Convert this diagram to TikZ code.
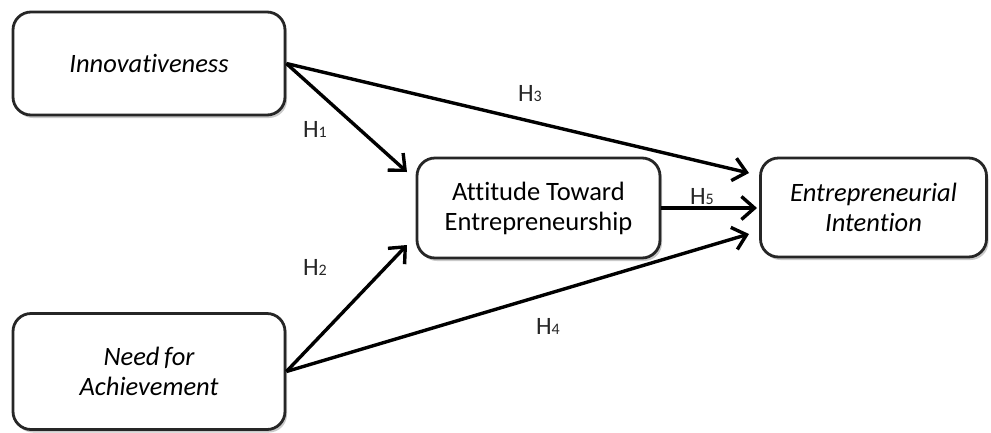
\documentclass[tikz,border=0pt]{standalone}
\usepackage{fontspec}
\setmainfont{Carlito}[Ligatures=NoCommon]
\usetikzlibrary{arrows.meta,shadows}
\begin{document}
\begin{tikzpicture}[x=1pt,y=-1pt,
  box/.style={draw=black!85, line width=2.8pt, rounded corners=18pt, fill=white,
    align=center, inner sep=0pt, font=\fontsize{26.5}{30}\selectfont,
    drop shadow={shadow xshift=2pt, shadow yshift=-3pt, opacity=0.35, fill=black!60}},
  conn/.style={line width=3.4pt, black, -{Straight Barb[length=13pt,width=23pt,line width=3.4pt]}},
  lab/.style={font=\fontsize{25}{28}\selectfont, inner sep=0pt, text=black!85}]
\useasboundingbox (0,0) rectangle (991,432);
\node[box, minimum width=272pt, minimum height=103pt] (inn) at (149,63.5) {\itshape Innovativeness};
\node[box, minimum width=272pt, minimum height=116pt] (nfa) at (149,371.5) {\itshape Need\,for\\\itshape Achievement};
\node[box, minimum width=243pt, minimum height=100pt] (att) at (538.5,208) {Attitude Toward\\Entrepreneurship};
\node[box, minimum width=226pt, minimum height=99pt] (ei) at (873.5,207.5) {\itshape Entrepreneurial\\\itshape Intention};
\coordinate (t1) at (407,172);
\coordinate (t2) at (407,245);
\coordinate (t3) at (749,173);
\coordinate (t4) at (749,234);
\coordinate (t5) at (757,208);
\draw[conn] (inn.east) -- (t1);
\draw[conn] (inn.east) -- (t3);
\draw[conn] (nfa.east) -- (t2);
\draw[conn] (nfa.east) -- (t4);
\draw[conn] (att.east) -- (t5);
\node[lab] (h1) at (315,129) {H{\fontsize{16}{16}\selectfont 1}};
\node[lab] (h2) at (315,267) {H{\fontsize{16}{16}\selectfont 2}};
\node[lab] (h3) at (530,94) {H{\fontsize{16}{16}\selectfont 3}};
\node[lab] (h4) at (548,326) {H{\fontsize{16}{16}\selectfont 4}};
\node[lab] (h5) at (702,197) {H{\fontsize{16}{16}\selectfont 5}};
\end{tikzpicture}
\end{document}
